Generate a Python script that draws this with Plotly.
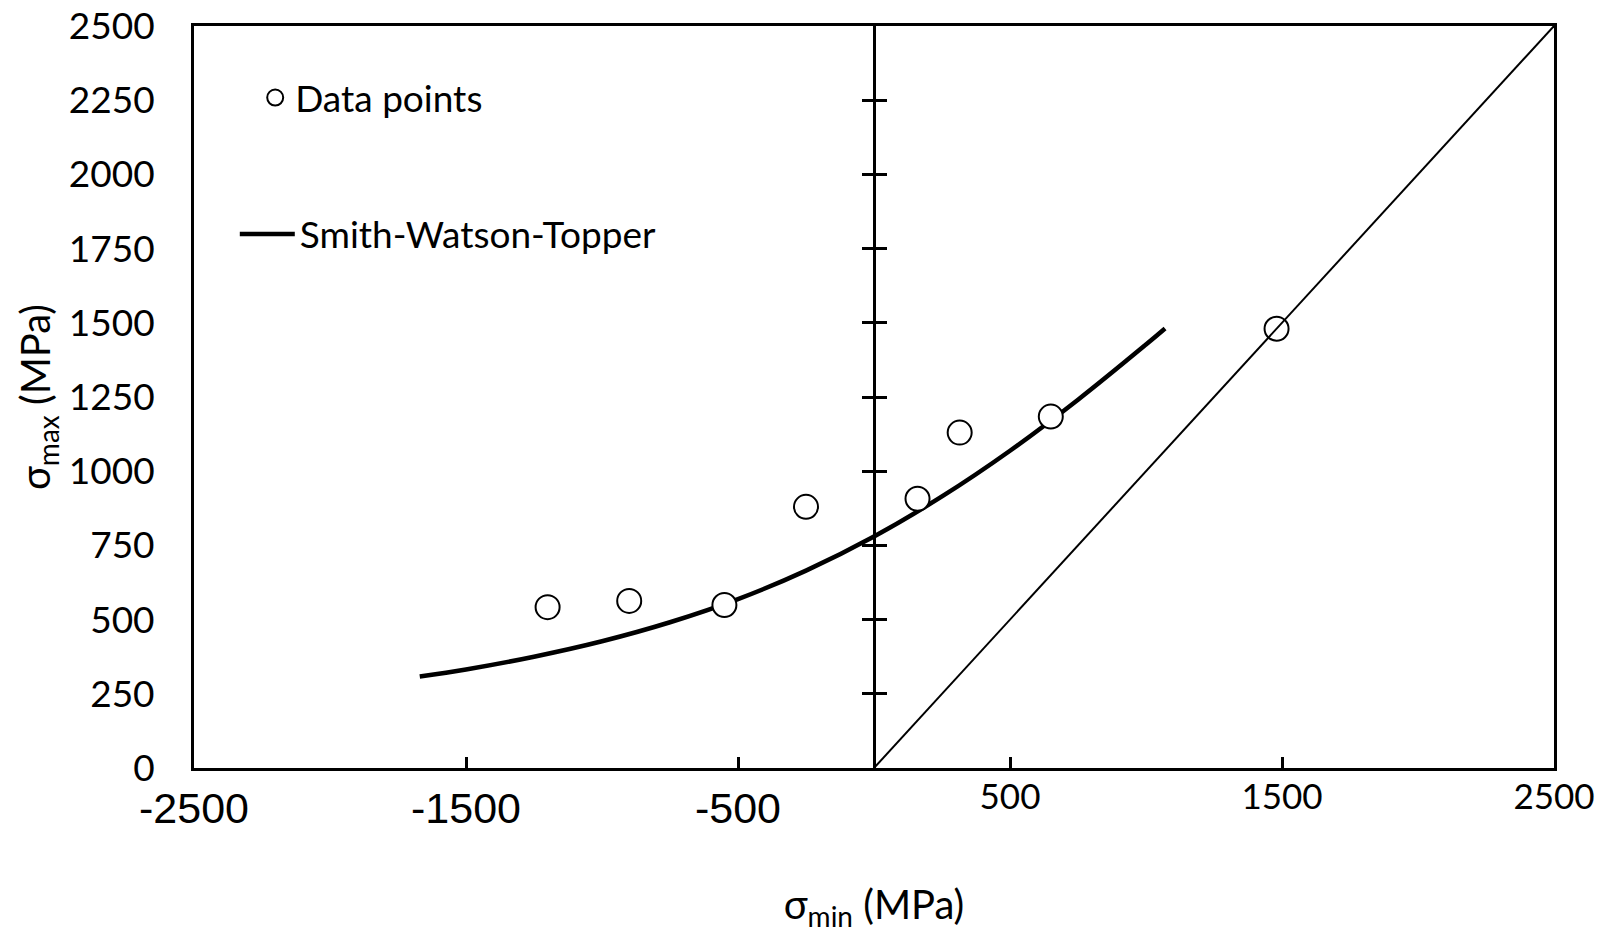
import plotly.graph_objects as go

# ---- data ----
pts_x = [-1200, -900, -550, -250, 160, 315, 650, 1480]
pts_y = [542, 563, 549, 880, 907, 1130, 1184, 1480]

swt_x = [-1670, -1500, -1250, -1000, -750, -500, -250, 0, 250, 500, 750, 1000, 1070]
swt_y = [308, 332, 375, 427, 491, 569, 665, 780, 915, 1069, 1241, 1427, 1481]

diag_x = [0, 2500]
diag_y = [0, 2500]

y_tickvals = [0, 250, 500, 750, 1000, 1250, 1500, 1750, 2000, 2250, 2500]
y_ticktext = ["0", "250", "500", "750", "1000", "1250", "1500", "1750", "2000", "2250", "2500"]
y_cross_ticks = [250, 500, 750, 1000, 1250, 1500, 1750, 2000, 2250]

x_neg_vals = [-2500, -1500, -500]
x_neg_text = ["-2500", "-1500", "-500"]
x_pos_vals = [500, 1500, 2500]
x_pos_text = ["500", "1500", "2500"]

CAL = "Lato"
ARI = "Liberation Sans"

fig = go.Figure()

fig.add_trace(go.Scatter(
    x=swt_x, y=swt_y, mode="lines", name="Smith-Watson-Topper",
    line=dict(color="black", width=4.5, shape="spline"),
    legend="legend2", xaxis="x", yaxis="y",
))
fig.add_trace(go.Scatter(
    x=pts_x, y=pts_y, mode="markers", name="Data points",
    marker=dict(symbol="circle", size=24, color="white",
                line=dict(color="black", width=2)),
    legend="legend", xaxis="x", yaxis="y2",
))
fig.add_trace(go.Scatter(
    x=diag_x, y=diag_y, mode="lines", showlegend=False,
    line=dict(color="black", width=2), hoverinfo="skip",
    xaxis="x2", yaxis="y3",
))

fig.update_layout(
    width=1610, height=933,
    margin=dict(l=194, r=56, t=26, b=165),
    paper_bgcolor="white", plot_bgcolor="white",
    font=dict(family=CAL, color="black"),
    legend=dict(x=0.045, y=0.903, xanchor="left", yanchor="middle",
                bgcolor="rgba(0,0,0,0)", itemsizing="trace",
                font=dict(family=CAL, size=37)),
    legend2=dict(x=0.03, y=0.719, xanchor="left", yanchor="middle",
                 bgcolor="rgba(0,0,0,0)", itemwidth=55,
                 font=dict(family=CAL, size=37)),
    xaxis=dict(
        range=[-2500, 2500], showgrid=False,
        showline=True, linewidth=3, linecolor="black", mirror=True,
        zeroline=True, zerolinewidth=3, zerolinecolor="black",
        tickmode="array", tickvals=x_neg_vals, ticktext=x_neg_text,
        ticks="inside", ticklen=11, tickwidth=3, tickcolor="black",
        tickfont=dict(family=ARI, size=43), ticklabelstandoff=0,
        ticklabeloverflow="allow",
        title=dict(text="σ<sub>min</sub> (MPa)", font=dict(family=CAL, size=40),
                   standoff=62),
        automargin="bottom",
    ),
    xaxis2=dict(
        overlaying="x", matches="x", anchor="y", side="bottom",
        range=[-2500, 2500], showgrid=False, zeroline=False, showline=False,
        tickmode="array", tickvals=x_pos_vals, ticktext=x_pos_text,
        ticks="inside", ticklen=11, tickwidth=3, tickcolor="black",
        tickfont=dict(family=CAL, size=35), ticklabelstandoff=5,
        ticklabeloverflow="allow", automargin=False,
    ),
    yaxis=dict(
        range=[0, 2500], showgrid=False, zeroline=False,
        showline=True, linewidth=3, linecolor="black", mirror=True,
        tickmode="array", tickvals=y_tickvals, ticktext=y_ticktext,
        ticks="", tickfont=dict(family=CAL, size=37), ticklabelstandoff=29,
        ticklabeloverflow="allow",
        title=dict(text="σ<sub>max</sub> (MPa)", font=dict(family=CAL, size=40),
                   standoff=6),
        automargin="left",
    ),
    yaxis2=dict(
        overlaying="y", matches="y", anchor="free", position=0.5,
        range=[0, 2500], showgrid=False, zeroline=False, showline=False,
        tickmode="array", tickvals=y_cross_ticks, showticklabels=False,
        ticks="outside", ticklen=12, tickwidth=3, tickcolor="black",
        automargin=False,
    ),
    yaxis3=dict(
        overlaying="y", matches="y", anchor="free", position=0.5,
        range=[0, 2500], showgrid=False, zeroline=False, showline=False,
        tickmode="array", tickvals=y_cross_ticks, showticklabels=False,
        ticks="inside", ticklen=12, tickwidth=3, tickcolor="black",
        automargin=False,
    ),
)

fig.write_html("out.html")
